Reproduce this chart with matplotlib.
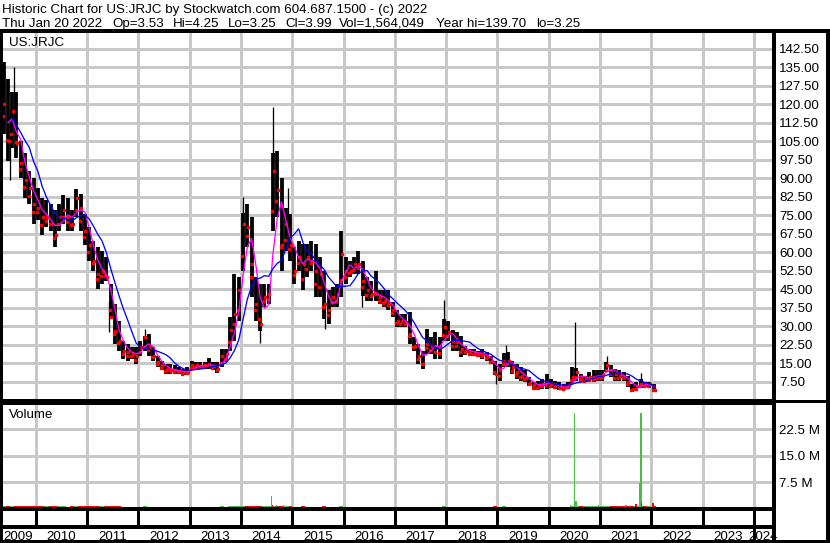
import matplotlib
matplotlib.use("Agg")
import matplotlib.pyplot as plt
import numpy as np
import pandas as pd

plt.rcParams['font.family'] = ['Liberation Sans', 'DejaVu Sans']

# ---------------- data (monthly bars, May 2009 .. Jan 2022) ----------------
start_month = "2009-05"
end_month = "2022-01"

hi_2009 = [137, 130, 125, 125, 105, 100, 93, 90]
lo_2009 = [108, 97, 102, 98, 90, 82, 79.5, 71.4]
cl_2009 = [120, 105, 117, 104, 96, 89, 86, 79.5]

hi_2010 = [86, 82, 81, 79.5, 77, 79.5, 83, 82, 77, 85.6, 83.6, 75.5]
lo_2010 = [73, 67, 70, 68.7, 62, 68.7, 71.4, 68.7, 68.7, 74, 68.7, 63]
cl_2010 = [78, 74, 74, 71.4, 67, 74, 77, 74, 71.4, 82, 78, 68.7]

hi_2011 = [70, 64.6, 62, 60.6, 58, 47, 39, 32.2, 24, 22.8, 21.4, 21.4]
lo_2011 = [56.5, 52.5, 45, 47, 48.4, 33, 22.8, 20, 16.7, 16, 16.7, 14.7]
cl_2011 = [63, 56.5, 51, 52.5, 49.8, 33.6, 28, 24, 20, 19.4, 18.7, 18]

hi_2012 = [24, 26, 26.8, 21.4, 18, 16, 14.7, 14.7, 14, 13.3, 12.6, 13.3]
lo_2012 = [18, 20, 18, 16, 13.3, 12, 10.6, 10.6, 10.6, 10.6, 10, 10]
cl_2012 = [21.4, 25.5, 21.4, 18, 15.3, 14, 12.6, 12, 12, 11.7, 11.3, 11.3]

hi_2013 = [16, 15.3, 15.3, 15.3, 17, 15.5, 15.3, 20.7, 20.7, 33.6, 51, 49.8]
lo_2013 = [12, 12.6, 12.6, 12.6, 12.6, 12, 10.9, 13.3, 15.3, 20, 24, 32.2]
cl_2013 = [14, 14, 13.6, 14, 14.7, 13.6, 12.6, 18, 18.7, 28.2, 35, 44.4]

hi_2014 = [76, 79.5, 74, 49.8, 47, 47, 47, 100, 101, 90, 78, 75.5]
lo_2014 = [52.5, 62, 41.7, 32.2, 28, 37.6, 39, 68.7, 74, 52.5, 60.6, 56.5]
cl_2014 = [71.4, 70, 55.2, 39, 30.9, 41.7, 43, 93, 85, 63, 71.4, 63]

hi_2015 = [62, 64.6, 63.3, 63.3, 64.6, 63.3, 58, 52.5, 44.4, 45.7, 47, 68.7]
lo_2015 = [47, 52.5, 44.4, 49.8, 52.5, 41.7, 41.7, 33, 30.9, 37.6, 37.6, 41.7]
cl_2015 = [52.5, 58, 55.2, 58, 56.5, 52.5, 51, 39, 36.3, 41.7, 43, 59.3]

hi_2016 = [58, 56.5, 58, 60.6, 56.5, 49.8, 48.4, 52.5, 44.4, 44.4, 44.4, 39.7]
lo_2016 = [47, 49.8, 51, 51, 42, 40.3, 40.3, 40.3, 38.9, 37.6, 36.3, 33.6]
cl_2016 = [52.5, 52.5, 55.2, 55.2, 48.4, 44.4, 43, 43, 41.7, 40.3, 39, 36.3]

hi_2017 = [36.3, 34.9, 34.9, 35.6, 25.5, 22.8, 20, 28.8, 25.5, 27.4, 25.5, 33]
lo_2017 = [29.5, 29.5, 29.5, 22.8, 20, 14.7, 12.6, 18.7, 18.7, 16.7, 16.7, 24]
cl_2017 = [32.2, 32.2, 31.6, 26.8, 22, 18, 14.7, 22.8, 22, 21.4, 21.4, 29.5]

hi_2018 = [32.2, 28.2, 27.5, 26.1, 22, 20.7, 20.7, 20, 20.7, 19.4, 18, 16]
lo_2018 = [24, 20, 20, 17.4, 18.4, 18, 18, 17.4, 16.7, 16, 14.7, 10]
cl_2018 = [27.5, 24, 23.4, 20.7, 20, 19.4, 19.4, 18.7, 18.7, 17.4, 16, 10.6]

hi_2019 = [14.7, 19, 19.4, 16, 14.7, 13.3, 12, 9.5, 7.2, 7.9, 8.6, 10.6]
lo_2019 = [7.9, 13.3, 13.3, 10.6, 8.6, 7.9, 7.5, 5.5, 4.1, 4.1, 4.5, 4.5]
cl_2019 = [12, 16, 16, 13.3, 11.3, 9.9, 9, 7, 5.9, 5.9, 6.6, 7.2]

hi_2020 = [8.6, 7.9, 7.2, 6.6, 7.2, 13.3, 13, 10.6, 9.9, 11.3, 12, 12]
lo_2020 = [4.9, 4.5, 3.9, 3.9, 4.5, 6.5, 7.9, 7.2, 7.2, 7.2, 7.2, 7.9]
cl_2020 = [6.6, 5.9, 4.9, 4.9, 5.9, 9.3, 11.3, 8.6, 8.6, 9.3, 9.5, 9.9]

hi_2021 = [12, 15.5, 14, 12.6, 12, 11.3, 9.9, 6.6, 7.2, 8.5, 7.2, 7.2]
lo_2021 = [7.9, 11.3, 9.3, 7.9, 7.9, 7.9, 5.2, 3.2, 3.6, 4.9, 5.2, 4.9]
cl_2021 = [10.3, 14, 12, 10.6, 9.9, 9.5, 7.2, 4.5, 5.5, 6.6, 6.3, 6.3]

hi_2022 = [6.6]
lo_2022 = [3.25]
cl_2022 = [3.99]

# single-day extremes that stick out of the monthly bars (date, high, low)
wick_t = [2009.50, 2009.583, 2011.435, 2012.13, 2014.05, 2014.37, 2014.63, 2014.92,
          2015.64, 2016.36, 2017.965, 2018.97, 2019.16, 2020.51, 2021.13, 2021.79]
wick_hi = [118, 135, 40, 28.8, 82.2, 35, 118.7, 86,
           40, 48, 40.5, 14, 22.5, 31.5, 18, 10.8]
wick_lo = [89, 110, 27.5, 22, 70, 23, 70, 70,
           28.8, 37.6, 30, 6.5, 15, 9, 12, 6]

# monthly baseline volume (millions)
vol_2009 = [0.7, 0.8, 0.7, 0.6, 0.7, 0.6, 0.7, 0.6]
vol_2010 = [0.6, 0.7, 0.6, 0.6, 0.7, 0.6, 0.6, 0.5, 0.6, 0.7, 0.6, 0.6]
vol_2011 = [0.6, 0.6, 0.7, 0.6, 0.6, 0.7, 0.6, 0.6, 0.5, 0.5, 0.5, 0.5]
vol_2012 = [0.5, 0.6, 0.5, 0.5, 0.5, 0.5, 0.5, 0.5, 0.5, 0.5, 0.5, 0.5]
vol_2013 = [0.5, 0.5, 0.5, 0.5, 0.5, 0.5, 0.5, 0.6, 0.5, 0.7, 0.8, 0.7]
vol_2014 = [0.8, 0.7, 0.7, 0.6, 0.6, 0.6, 0.6, 0.8, 0.7, 0.7, 0.6, 0.6]
vol_2015 = [0.5, 0.5, 0.6, 0.5, 0.5, 0.5, 0.5, 0.6, 0.5, 0.5, 0.5, 0.6]
vol_2016 = [0.5, 0.5, 0.5, 0.5, 0.5, 0.5, 0.5, 0.5, 0.5, 0.5, 0.5, 0.5]
vol_2017 = [0.5, 0.5, 0.5, 0.5, 0.5, 0.5, 0.5, 0.5, 0.5, 0.5, 0.5, 0.6]
vol_2018 = [0.5, 0.5, 0.5, 0.5, 0.5, 0.5, 0.5, 0.5, 0.5, 0.5, 0.5, 0.6]
vol_2019 = [0.5, 0.6, 0.5, 0.5, 0.5, 0.5, 0.5, 0.5, 0.5, 0.5, 0.5, 0.5]
vol_2020 = [0.5, 0.5, 0.5, 0.5, 0.5, 0.7, 0.7, 0.6, 0.6, 0.6, 0.6, 0.7]
vol_2021 = [0.7, 0.7, 0.6, 0.6, 0.6, 0.6, 0.7, 0.7, 0.6, 0.8, 0.6, 0.6]
vol_2022 = [0.7]

# individual daily volume spikes: (date as fractional year, volume in M, up day?)
spike_t = [2013.98, 2014.24, 2014.60, 2014.61, 2014.70, 2014.83, 2014.92, 2015.25, 2015.92,
           2017.98, 2019.15, 2020.43, 2020.50, 2020.53, 2020.79, 2020.97, 2021.06, 2021.18,
           2021.51, 2021.52, 2021.60, 2021.70, 2021.77, 2021.80, 2021.81, 2022.03]
spike_v = [0.6, 0.6, 3.4, 1.1, 0.85, 0.85, 0.6, 0.5, 0.7,
           0.5, 0.8, 1.1, 26.9, 2.0, 0.8, 1.0, 0.8, 0.6,
           0.9, 0.6, 0.8, 1.2, 7.1, 26.9, 1.5, 1.56]
spike_up = [1, 0, 1, 0, 1, 1, 1, 1, 1,
            1, 1, 1, 1, 1, 1, 1, 1, 1,
            1, 0, 0, 0, 1, 1, 0, 0]

price_ticks = [7.5, 15, 22.5, 30, 37.5, 45, 52.5, 60, 67.5, 75, 82.5, 90, 97.5,
               105, 112.5, 120, 127.5, 135, 142.5]
vol_ticks = [7.5, 15.0, 22.5]
years = list(range(2009, 2025))

header1 = "Historic Chart for US:JRJC by Stockwatch.com 604.687.1500 - (c) 2022"
header2_fields = ["Thu Jan 20 2022", "Op=3.53", "Hi=4.25", "Lo=3.25", "Cl=3.99",
                  "Vol=1,564,049", "Year hi=139.70", "lo=3.25"]
header2_x = [2.3, 112.3, 173.3, 227.7, 285.7, 339, 436, 536]

# ---------------- assemble ----------------
hi = np.array(hi_2009 + hi_2010 + hi_2011 + hi_2012 + hi_2013 + hi_2014 + hi_2015 + hi_2016
              + hi_2017 + hi_2018 + hi_2019 + hi_2020 + hi_2021 + hi_2022, float)
lo = np.array(lo_2009 + lo_2010 + lo_2011 + lo_2012 + lo_2013 + lo_2014 + lo_2015 + lo_2016
              + lo_2017 + lo_2018 + lo_2019 + lo_2020 + lo_2021 + lo_2022, float)
cl = np.array(cl_2009 + cl_2010 + cl_2011 + cl_2012 + cl_2013 + cl_2014 + cl_2015 + cl_2016
              + cl_2017 + cl_2018 + cl_2019 + cl_2020 + cl_2021 + cl_2022, float)
vol = np.array(vol_2009 + vol_2010 + vol_2011 + vol_2012 + vol_2013 + vol_2014 + vol_2015 + vol_2016
               + vol_2017 + vol_2018 + vol_2019 + vol_2020 + vol_2021 + vol_2022, float)

months = pd.period_range(start_month, end_month, freq="M")
t = np.array([p.year + (p.month - 0.5) / 12.0 for p in months])
t[-1] = 2022.0 + 20 / 365.0

ma_fast = pd.Series(cl).rolling(3, min_periods=2).mean().values
ma_slow = pd.Series(cl).rolling(7, min_periods=3).mean().values

# ---------------- layout (pixel based) ----------------
W, H = 830, 543
fig = plt.figure(figsize=(W / 100, H / 100), dpi=100)
fig.patch.set_facecolor("white")


def ax_px(x0, y0, x1, y1):
    a = fig.add_axes([x0 / W, 1 - y1 / H, (x1 - x0) / W, (y1 - y0) / H])
    a.set_facecolor("none")
    for s in a.spines.values():
        s.set_visible(False)
    a.set_xticks([])
    a.set_yticks([])
    return a


T0 = 2010 + (1 - 35.7) / 51.3
T1 = 2010 + (773 - 35.7) / 51.3
GRID = "#c8c8c8"
FS = 9.6
PX = 0.72  # points per pixel

# price panel
axp = ax_px(1, 30, 773, 400)
axp.set_xlim(T0, T1)
axp.set_ylim(0, 150)
for p in price_ticks:
    axp.axhline(p, color=GRID, lw=1.2 * PX, zorder=0, antialiased=False)
for y in years[1:]:
    axp.axvline(y, color=GRID, lw=1.2 * PX, zorder=0, antialiased=False)
axp.vlines(wick_t, wick_lo, wick_hi, color="black", lw=1.3 * PX, zorder=2)
axp.vlines(t, lo, hi, color="black", lw=3.8 * PX, zorder=2)
axp.plot(t + 0.012, cl, linestyle="none", marker="s", ms=2.2 * PX,
         mfc="#ff0000", mec="#ff0000", zorder=3)
axp.plot(t - 0.015, lo + 0.25 * (hi - lo), linestyle="none", marker="s", ms=2.0 * PX,
         mfc="#ff0000", mec="#ff0000", zorder=3)
axp.plot(t, ma_fast, color="#ff00ff", lw=1.3 * PX, zorder=4)
axp.plot(t, ma_slow, color="#0000ff", lw=1.3 * PX, zorder=5)

# volume panel
axv = ax_px(1, 402.5, 773, 508.5)
axv.set_xlim(T0, T1)
axv.set_ylim(0, 30)
for v in vol_ticks:
    axv.axhline(v, color=GRID, lw=1.2 * PX, zorder=0, antialiased=False)
for y in years[1:]:
    axv.axvline(y, color=GRID, lw=1.2 * PX, zorder=0, antialiased=False)
prev = np.concatenate([[cl[0]], cl[:-1]])
vcol = np.where(cl >= prev, "#4cbb4c", "#ff0000")
axv.bar(t, vol, width=1 / 12.0, color=vcol, linewidth=0, zorder=2)
scol = ["#4cbb4c" if u else "#ff0000" for u in spike_up]
axv.bar(spike_t, spike_v, width=0.026, color=scol, linewidth=0, zorder=3)

# tick strip
axt = ax_px(1, 509, 773, 527)
axt.set_xlim(T0, T1)
axt.set_ylim(0, 1)
axt.vlines(years[1:], 0, 1, color="black", lw=1.2 * PX, antialiased=False)

# year label strip
axl = ax_px(1, 527, 773, 541)
axl.set_xlim(T0, T1)
axl.set_ylim(0, 1)
axl.vlines([2024], 0, 1, color="black", lw=1.2 * PX, antialiased=False)
for y in years:
    a, b = max(y, T0), min(y + 1, T1)
    axl.text((a + b) / 2, 0.07, str(y), ha="center", va="baseline", fontsize=FS)

# overlay for borders and free text (pixel coords)
ov = fig.add_axes([0, 0, 1, 1])
ov.set_xlim(0, W)
ov.set_ylim(H, 0)
ov.axis("off")
ov.set_facecolor("none")


def hl(y, x0, x1, w):
    ov.plot([x0, x1], [y, y], color="black", lw=w * PX, solid_capstyle="butt", antialiased=False)


def vl(x, y0, y1, w):
    ov.plot([x, x], [y0, y1], color="black", lw=w * PX, solid_capstyle="butt", antialiased=False)


hl(30.5, 0, W, 2.5)
vl(1, 30, H, 2.5)
vl(773.5, 30, H, 2.5)
vl(828, 30, H, 2.5)
hl(400, 0, 773, 1.2)
hl(402.8, 0, 773, 1.2)
hl(401, 773, 828, 1.2)
hl(509.3, 0, 773, 2.5)
hl(527, 0, 773, 2.5)
hl(541.5, 0, W, 2.5)

ov.text(2, 12.7, header1, fontsize=FS, va="baseline", ha="left")
for s, x in zip(header2_fields, header2_x):
    ov.text(x, 26.7, s, fontsize=FS, va="baseline", ha="left")
ov.text(8.7, 45.7, "US:JRJC", fontsize=FS, va="baseline", ha="left")
ov.text(9, 417.7, "Volume", fontsize=FS, va="baseline", ha="left")

for p in price_ticks:
    ypx = 30 + (150 - p) * (370 / 150)
    ov.text(779.3, ypx + 4.7, f"{p:.2f}", fontsize=FS, va="baseline", ha="left")
for v in vol_ticks:
    ypx = 402.5 + (30 - v) * (106 / 30)
    ov.text(779.3, ypx + 4.7, f"{v:.1f} M", fontsize=FS, va="baseline", ha="left")

fig.savefig("out.png", dpi=100, facecolor="white")
